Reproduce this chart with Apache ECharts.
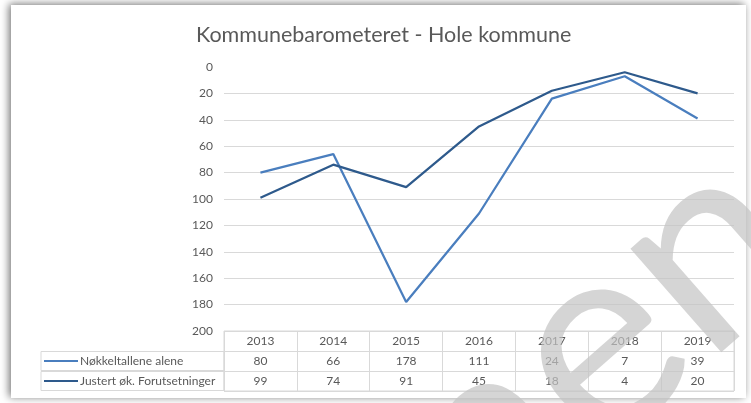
<!DOCTYPE html>
<html>
<head>
<meta charset="utf-8">
<script src="https://cdn.jsdelivr.net/npm/echarts@6/dist/echarts.min.js"></script>
<style>
  html, body { margin: 0; padding: 0; background: #fff; }
  #frame { position: absolute; left: 11px; top: 5px; width: 735px; height: 393px;
           background: #fff; box-shadow: -2px -1px 8px rgba(0,0,0,0.55); }
  #chart { position: absolute; left: 0; top: 0; width: 751px; height: 403px; }
</style>
</head>
<body>
<div id="frame"></div>
<div id="chart"></div>
<script>
// data
var years = ['2013', '2014', '2015', '2016', '2017', '2018', '2019'];
var seriesNames = ['Nøkkeltallene alene', 'Justert øk. Forutsetninger'];
var alene = [80, 66, 178, 111, 24, 7, 39];
var justert = [99, 74, 91, 45, 18, 4, 20];
var colors = ['#4A7EBE', '#2E5A8C'];

var txt = '#595959';
var gridCol = '#d9d9d9';
var font = 'Lato';

var myChart = echarts.init(document.getElementById('chart'), null, { renderer: 'canvas' });

// table cells: [col, row] + label
var rows = [years, alene, justert];
var cells = [];
rows.forEach(function (r, ri) {
    r.forEach(function (v, ci) {
        cells.push({ value: [ci, ri], label: String(v) });
    });
});

option = {
    animation: false,
    title: {
        text: 'Kommunebarometeret - Hole kommune',
        left: 191,
        top: 19,
        textStyle: { color: txt, fontFamily: font, fontSize: 21.5, fontWeight: 'normal' }
    },
    grid: [
        { left: 224, right: 17, top: 67, height: 264 },
        { left: 224, right: 17, top: 331, height: 60, show: true, borderColor: gridCol, borderWidth: 1 }
    ],
    xAxis: [
        {
            type: 'category', gridIndex: 0, data: years, boundaryGap: true,
            axisLine: { show: false }, axisTick: { show: false }, axisLabel: { show: false }
        },
        {
            type: 'category', gridIndex: 1, data: years, boundaryGap: true,
            axisLine: { show: false }, axisTick: { show: false }, axisLabel: { show: false },
            splitLine: { show: true, lineStyle: { color: gridCol } }
        }
    ],
    yAxis: [
        {
            type: 'value', gridIndex: 0, min: 0, max: 200, interval: 20, inverse: true,
            axisLine: { show: false }, axisTick: { show: false },
            axisLabel: { color: txt, fontFamily: font, fontSize: 12, margin: 11 },
            splitLine: { show: true, showMinLine: false, lineStyle: { color: gridCol, width: 1 } }
        },
        {
            type: 'category', gridIndex: 1, inverse: true,
            data: ['', seriesNames[0], seriesNames[1]],
            axisLine: { show: false }, axisTick: { show: false },
            splitLine: { show: true, lineStyle: { color: gridCol } },
            axisLabel: {
                interval: 0,
                margin: 183,
                formatter: function (v, i) {
                    if (i === 0) return '';
                    return '{s' + i + '|}{t|' + v + '}';
                },
                rich: {
                    s1: { width: 34, height: 2, backgroundColor: colors[0], verticalAlign: 'middle' },
                    s2: { width: 34, height: 2, backgroundColor: colors[1], verticalAlign: 'middle' },
                    t: { color: txt, fontFamily: font, fontSize: 12, lineHeight: 19,
                         verticalAlign: 'middle', padding: [0, 0, 0, 2] }
                },
                width: 180, lineHeight: 19, align: 'left', verticalAlign: 'middle',
                padding: [0, 0, 0, 3],
                borderColor: gridCol, borderWidth: 1
            }
        }
    ],
    series: [
        {
            name: seriesNames[0], type: 'line', data: alene, symbol: 'none',
            lineStyle: { color: colors[0], width: 2.25 }, z: 3
        },
        {
            name: seriesNames[1], type: 'line', data: justert, symbol: 'none',
            lineStyle: { color: colors[1], width: 2.25 }, z: 3
        },
        {
            type: 'custom', xAxisIndex: 1, yAxisIndex: 1, data: cells,
            renderItem: function (params, api) {
                var p = api.coord([api.value(0), api.value(1)]);
                return {
                    type: 'text', x: p[0], y: p[1],
                    style: {
                        text: cells[params.dataIndex].label,
                        align: 'center', verticalAlign: 'middle',
                        fill: txt, font: '12px ' + font
                    }
                };
            }
        }
    ],
    graphic: [
        {
            type: 'text', x: 568, y: 370, rotation: 0.72, z: 100,
            style: {
                text: 'men', align: 'center', verticalAlign: 'middle',
                font: '272px ' + font, fill: 'rgba(195,195,195,0.7)'
            }
        }
    ]
};
myChart.setOption(option);
</script>
</body>
</html>
